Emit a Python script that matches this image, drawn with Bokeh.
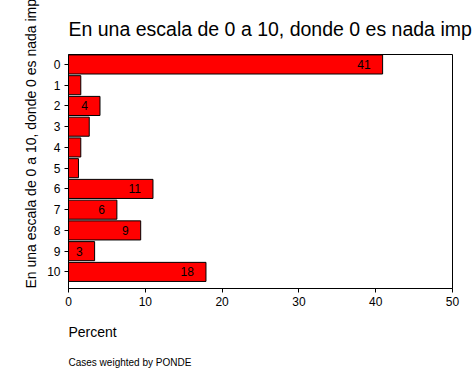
import numpy as np
from bokeh.plotting import figure
from bokeh.models import Range1d, FixedTicker, Title, ColumnDataSource, LabelSet
from bokeh.core.properties import value
from bokeh.embed import file_html
from bokeh.resources import INLINE

categories = ["0", "1", "2", "3", "4", "5", "6", "7", "8", "9", "10"]
percent = [40.9, 1.6, 4.1, 2.7, 1.6, 1.3, 11.0, 6.3, 9.4, 3.4, 17.9]
bar_labels = ["41", "", "4", "", "", "", "11", "6", "9", "3", "18"]
x_ticks = [0, 10, 20, 30, 40, 50]

title_text = "En una escala de 0 a 10, donde 0 es nada imp"
ylabel_text = "En una escala de 0 a 10, donde 0 es nada imp"
xlabel_text = "Percent"
note_text = "Cases weighted by PONDE"

FONT = "Liberation Sans"

pos = list(range(len(categories)))
src = ColumnDataSource(dict(y=pos, right=percent, lab=bar_labels))

p = figure(width=474, height=378, output_backend="svg", toolbar_location=None,
           x_range=Range1d(0, 50), y_range=Range1d(10.8, -0.48),
           min_border_left=68, min_border_right=22, min_border_top=54,
           min_border_bottom=90)
p.title.text = title_text
p.title.align = "left"
p.title.text_font = FONT
p.title.text_font_size = "19.5px"
p.title.text_font_style = "normal"
p.title.text_color = "black"
p.title.text_line_height = 1.0
p.title.standoff = 30

p.background_fill_color = "white"
p.border_fill_color = "white"
p.outline_line_color = "black"
p.outline_line_width = 1
p.grid.visible = False

p.hbar(y="y", left=0, right="right", height=0.92, source=src,
       fill_color="#ff0000", line_color="black", line_width=1)

p.add_layout(LabelSet(x="right", y="y", text="lab", source=src, x_offset=-12,
                      text_align="right", text_baseline="middle",
                      text_font=value(FONT), text_font_size=value("12px"),
                      text_color="black"))

p.xaxis.ticker = FixedTicker(ticks=x_ticks)
p.yaxis.ticker = FixedTicker(ticks=pos)
p.yaxis.major_label_overrides = {i: c for i, c in zip(pos, categories)}
for ax in (p.xaxis, p.yaxis):
    ax.axis_line_color = "black"
    ax.major_tick_line_color = "black"
    ax.major_tick_in = 0
    ax.major_tick_out = 4
    ax.minor_tick_line_color = None
    ax.major_label_text_font = FONT
    ax.major_label_text_font_size = "12px"
    ax.major_label_text_color = "black"
    ax.major_label_standoff = 4

p.add_layout(Title(text=ylabel_text, align="left", text_font=FONT,
                   text_font_size="14px", text_font_style="normal",
                   text_color="black", standoff=12), "left")
p.add_layout(Title(text=xlabel_text, align="left", text_font=FONT,
                   text_font_size="14px", text_font_style="normal",
                   text_color="black", standoff=26), "below")
p.add_layout(Title(text=note_text, align="left", text_font=FONT,
                   text_font_size="10px", text_font_style="normal",
                   text_color="black", standoff=5), "below")

open("out.html", "w").write(file_html(p, INLINE))
